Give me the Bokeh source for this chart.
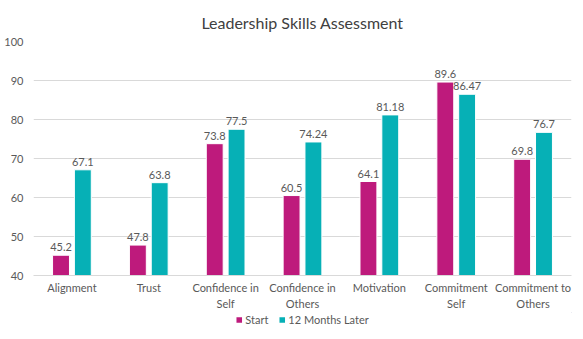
from bokeh.plotting import figure
from bokeh.models import (ColumnDataSource, Range1d, Legend, LegendItem, LabelSet,
                          FixedTicker, LinearAxis)
from bokeh.core.properties import value
from bokeh.layouts import column
from bokeh.transform import dodge
from bokeh.embed import file_html
from bokeh.resources import INLINE

categories = ["Alignment", "Trust", "Confidence in Self", "Confidence in Others",
              "Motivation", "Commitment Self", "Commitment to Others"]
label_line1 = ["Alignment", "Trust", "Confidence in", "Confidence in",
               "Motivation", "Commitment", "Commitment to"]
label_line2 = ["", "", "Self", "Others", "", "Self", "Others"]
start = [45.2, 47.8, 73.8, 60.5, 64.1, 89.6, 69.8]
later = [67.1, 63.8, 77.5, 74.24, 81.18, 86.47, 76.7]
start_txt = ["45.2", "47.8", "73.8", "60.5", "64.1", "89.6", "69.8"]
later_txt = ["67.1", "63.8", "77.5", "74.24", "81.18", "86.47", "76.7"]
series = ["Start", "12 Months Later"]
colors = ["#BE1A7C", "#06B0B6"]
y_ticks = [40, 50, 60, 70, 80, 90, 100]

FONT = "Lato"
TXT = "#595959"

idx = list(range(len(categories)))
src = ColumnDataSource(dict(idx=idx, cat=categories, start=start, later=later,
                            start_txt=start_txt, later_txt=later_txt))

p = figure(width=583, height=312, x_range=Range1d(-0.5, len(categories) - 0.5),
           y_range=Range1d(40, 100), output_backend="svg", toolbar_location=None,
           min_border_left=33, min_border_right=12, min_border_top=40, min_border_bottom=36)

p.title.text = "Leadership Skills Assessment"
p.title.align = "center"
p.title.text_font = FONT
p.title.text_font_size = "16px"
p.title.text_font_style = "normal"
p.title.text_color = "#404040"
p.title.standoff = 20

r1 = p.vbar(x=dodge("idx", -0.142), top="start", bottom=40, width=0.22,
            source=src, fill_color=colors[0], line_color="white", line_width=1)
r2 = p.vbar(x=dodge("idx", 0.142), top="later", bottom=40, width=0.22,
            source=src, fill_color=colors[1], line_color="white", line_width=1)

for col, txt, off in [("start", "start_txt", -0.142), ("later", "later_txt", 0.142)]:
    ls = LabelSet(x=dodge("idx", off), y=col, text=txt, source=src,
                  text_align="center", text_baseline="bottom", y_offset=4,
                  text_font=value(FONT), text_font_size="11px", text_color=TXT)
    p.add_layout(ls)

p.xgrid.grid_line_color = None
p.ygrid.grid_line_color = "#D9D9D9"
p.ygrid.grid_line_width = 1
p.yaxis.ticker = FixedTicker(ticks=y_ticks)
p.yaxis.axis_line_color = None
p.yaxis.major_tick_line_color = None
p.yaxis.minor_tick_line_color = None
p.yaxis.major_tick_out = 0
p.yaxis.minor_tick_out = 0
p.yaxis.major_label_text_font = FONT
p.yaxis.major_label_text_font_size = "11px"
p.yaxis.major_label_text_color = TXT
p.yaxis.major_label_standoff = 10

p.xaxis.ticker = FixedTicker(ticks=idx)
p.xaxis.axis_line_color = "#D9D9D9"
p.xaxis.major_tick_line_color = None
p.xaxis.minor_tick_line_color = None
p.xaxis.major_tick_out = 0
p.xaxis.minor_tick_out = 0
p.xaxis.major_label_overrides = dict(zip(idx, label_line1))
p.xaxis.major_label_text_font = FONT
p.xaxis.major_label_text_font_size = "11px"
p.xaxis.major_label_text_color = TXT
p.xaxis.major_label_standoff = 5

ax2 = LinearAxis(ticker=FixedTicker(ticks=idx), axis_line_color=None,
                 major_tick_line_color=None, minor_tick_line_color=None,
                 major_tick_out=0, minor_tick_out=0,
                 major_label_standoff=0, major_label_text_font=FONT,
                 major_label_text_font_size="11px", major_label_text_color=TXT,
                 major_label_overrides=dict(zip(idx, label_line2)))
p.add_layout(ax2, "below")

p.outline_line_color = None

# legend strip below the chart (swatch glyphs sit outside the strip's visible range)
q = figure(width=583, height=27, x_range=Range1d(0, 1), y_range=Range1d(0, 1),
           output_backend="svg", toolbar_location=None,
           x_axis_location=None, y_axis_location=None, min_border=0)
q.grid.grid_line_color = None
q.outline_line_color = None
e1 = q.vbar(x=[5], top=[5], bottom=[4], width=0.1, fill_color=colors[0], line_color=None)
e2 = q.vbar(x=[6], top=[5], bottom=[4], width=0.1, fill_color=colors[1], line_color=None)
legend = Legend(items=[LegendItem(label=series[0], renderers=[e1]),
                       LegendItem(label=series[1], renderers=[e2])],
                orientation="horizontal", location="top_center",
                label_text_font=FONT, label_text_font_size="11px", label_text_color=TXT,
                glyph_width=7, glyph_height=7, label_standoff=3, spacing=10,
                border_line_color=None, background_fill_alpha=0, padding=2, margin=1)
q.add_layout(legend)

layout = column(p, q, spacing=0)
open("out.html", "w").write(file_html(layout, INLINE))
